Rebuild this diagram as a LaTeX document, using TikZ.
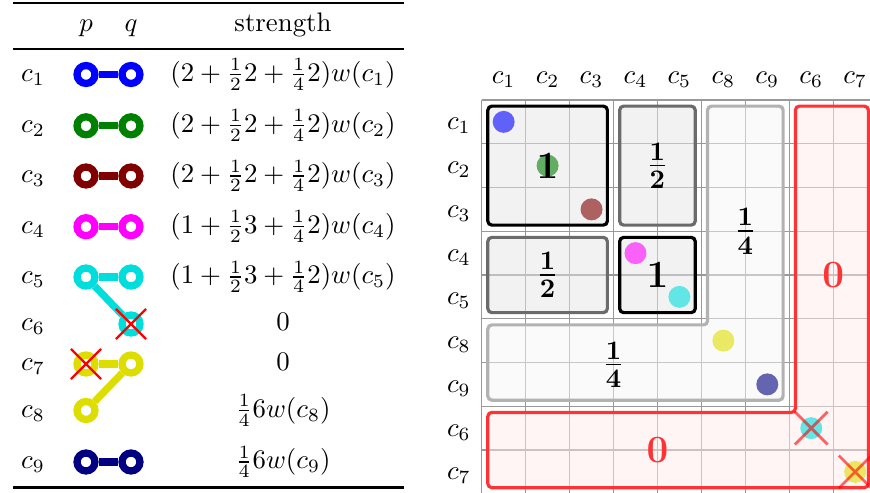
\documentclass[tikz,border=0pt]{standalone}
\usepackage{amsmath}
\usetikzlibrary{shapes.misc}

\definecolor{pgreen}{RGB}{0,128,0}
\definecolor{pmaroon}{RGB}{128,0,0}
\definecolor{pmagenta}{RGB}{255,0,255}
\definecolor{pcyan}{RGB}{0,221,221}
\definecolor{pyellow}{RGB}{221,221,0}
\definecolor{pnavy}{RGB}{0,0,128}

\begin{document}
\begin{tikzpicture}[
    x=0.373pt,
    y=-0.373pt,
    ring/.style={
        circle,
        draw=#1,
        line width=2.7pt,
        minimum size=6.7pt,
        inner sep=0pt
    },
    bar/.style={draw=#1, line width=2.7pt},
    nomatch/.style={cross out, draw=red, line width=0.8pt, minimum size=10.4pt, inner sep=0pt},
    lbl/.style={anchor=base, inner sep=0pt},
    gridline/.style={draw=gray!80, line width=0.4pt},
    blk/.style={line width=1.2pt, rounded corners=1.5pt, fill opacity=0.5},
    strong/.style={blk, draw=black, fill=gray!20},
    half/.style={blk, draw=black!58, fill=gray!20},
    quarter/.style={blk, draw=black!30, fill=gray!8},
    zero/.style={blk, draw=red!80, fill=red!8},
    dot/.style={circle, fill=#1, fill opacity=0.6, minimum size=8.2pt, inner sep=0pt},
    gone/.style={cross out, draw=red, draw opacity=0.6, line width=1pt, minimum size=11.2pt, inner sep=0pt},
    weight/.style={font=\Large, inner sep=0pt}
]
\useasboundingbox (0,0) rectangle (870,493);

% ============================================================
% TABLE: pairs p--q and their strength
% ============================================================
\draw[line width=0.8pt] (13,2.7) -- (404,2.7);
\draw[line width=0.5pt] (13,49) -- (404,49);
\draw[line width=0.8pt] (13,487.5) -- (404,487.5);

\node[lbl] (hp) at (86,32) {$p$};
\node[lbl] (hq) at (131,32) {$q$};
\node[lbl] (hs) at (283,32) {strength};

\node[lbl] (r1) at (33,81.2) {$c_1$};
\node[lbl] (r2) at (33,132.5) {$c_2$};
\node[lbl] (r3) at (33,182.7) {$c_3$};
\node[lbl] (r4) at (33,233.4) {$c_4$};
\node[lbl] (r5) at (33,283.7) {$c_5$};
\node[lbl] (r6) at (33,330.7) {$c_6$};
\node[lbl] (r7) at (33,370.7) {$c_7$};
\node[lbl] (r8) at (33,417.2) {$c_8$};
\node[lbl] (r9) at (33,468.7) {$c_9$};

\node[lbl] (s1) at (283,81.2) {$(2+\frac{1}{2}2+\frac{1}{4}2)w(c_1)$};
\node[lbl] (s2) at (283,132.5) {$(2+\frac{1}{2}2+\frac{1}{4}2)w(c_2)$};
\node[lbl] (s3) at (283,182.7) {$(2+\frac{1}{2}2+\frac{1}{4}2)w(c_3)$};
\node[lbl] (s4) at (283,233.4) {$(1+\frac{1}{2}3+\frac{1}{4}2)w(c_4)$};
\node[lbl] (s5) at (283,283.7) {$(1+\frac{1}{2}3+\frac{1}{4}2)w(c_5)$};
\node[lbl] (s6) at (283,330.7) {$0$};
\node[lbl] (s7) at (283,370.7) {$0$};
\node[lbl] (s8) at (283,417.2) {$\frac{1}{4}6w(c_8)$};
\node[lbl] (s9) at (283,468.7) {$\frac{1}{4}6w(c_9)$};

% rings
\node[ring=blue] (p1) at (86,74.5) {};
\node[ring=blue] (q1) at (131,74.5) {};
\node[ring=pgreen] (p2) at (86,125.8) {};
\node[ring=pgreen] (q2) at (131,125.8) {};
\node[ring=pmaroon] (p3) at (86,176) {};
\node[ring=pmaroon] (q3) at (131,176) {};
\node[ring=pmagenta] (p4) at (86,226.7) {};
\node[ring=pmagenta] (q4) at (131,226.7) {};
\node[ring=pcyan] (p5) at (86,277) {};
\node[ring=pcyan] (q5) at (131,277) {};
\node[ring=pcyan] (q6) at (131,324) {};
\node[ring=pyellow] (p7) at (86,364) {};
\node[ring=pyellow] (q7) at (131,364) {};
\node[ring=pyellow] (p8) at (86,410.5) {};
\node[ring=pnavy] (p9) at (86,462) {};
\node[ring=pnavy] (q9) at (131,462) {};

\draw[bar=blue] (p1) -- (q1);
\draw[bar=pgreen] (p2) -- (q2);
\draw[bar=pmaroon] (p3) -- (q3);
\draw[bar=pmagenta] (p4) -- (q4);
\draw[bar=pcyan] (p5) -- (q5);
\draw[bar=pcyan] (p5) -- (q6);
\draw[bar=pyellow] (p7) -- (q7);
\draw[bar=pyellow] (q7) -- (p8);
\draw[bar=pnavy] (p9) -- (q9);

\node[nomatch] (x6) at (q6.center) {};
\node[nomatch] (x7) at (p7.center) {};

% ============================================================
% MATRIX: blocks of shared weight
% ============================================================
\begin{scope}[xshift=179.67pt, yshift=-37.3pt, x=16.39pt, y=-16.32pt]
\foreach \k in {0,...,9} {
    \draw[gridline] (\k,0) -- (\k,9);
    \draw[gridline] (0,\k) -- (9,\k);
}

\draw[strong] (0.14,0.14) rectangle (2.86,2.86);
\draw[half] (3.14,0.14) rectangle (4.86,2.86);
\draw[half] (0.14,3.14) rectangle (2.86,4.86);
\draw[strong] (3.14,3.14) rectangle (4.86,4.86);
\draw[quarter] (5.14,0.14) -- (6.86,0.14) -- (6.86,6.86) -- (0.14,6.86)
    -- (0.14,5.14) -- (5.14,5.14) -- cycle;
\draw[zero] (7.14,0.14) -- (8.8,0.14) -- (8.8,8.86) -- (0.14,8.86)
    -- (0.14,7.14) -- (7.14,7.14) -- cycle;

\foreach \c [count=\i] in {blue,pgreen,pmaroon,pmagenta,pcyan,pyellow,pnavy,pcyan,pyellow}
    \node[dot=\c] (d\i) at (\i-0.5,\i-0.5) {};
\node[gone] (g8) at (d8.center) {};
\node[gone] (g9) at (d9.center) {};

\node[weight] (w1) at (1.5,1.5) {$\mathbf{1}$};
\node[weight] (w2) at (4,1.5) {$\mathbf{\frac{1}{2}}$};
\node[weight] (w3) at (1.5,4) {$\mathbf{\frac{1}{2}}$};
\node[weight] (w4) at (4,4) {$\mathbf{1}$};
\node[weight] (w5) at (6,3) {$\mathbf{\frac{1}{4}}$};
\node[weight] (w6) at (3,6.05) {$\mathbf{\frac{1}{4}}$};
\node[weight, text=red!80] (w7) at (8,4) {$\mathbf{0}$};
\node[weight, text=red!80] (w8) at (4,8) {$\mathbf{0}$};

\foreach \n [count=\i] in {1,2,3,4,5,8,9,6,7} {
    \node[lbl] (col\i) at (\i-0.5,-0.38) {$c_{\n}$};
    \node[lbl] (row\i) at (-0.52,\i-0.32) {$c_{\n}$};
}
\end{scope}

\end{tikzpicture}
\end{document}
